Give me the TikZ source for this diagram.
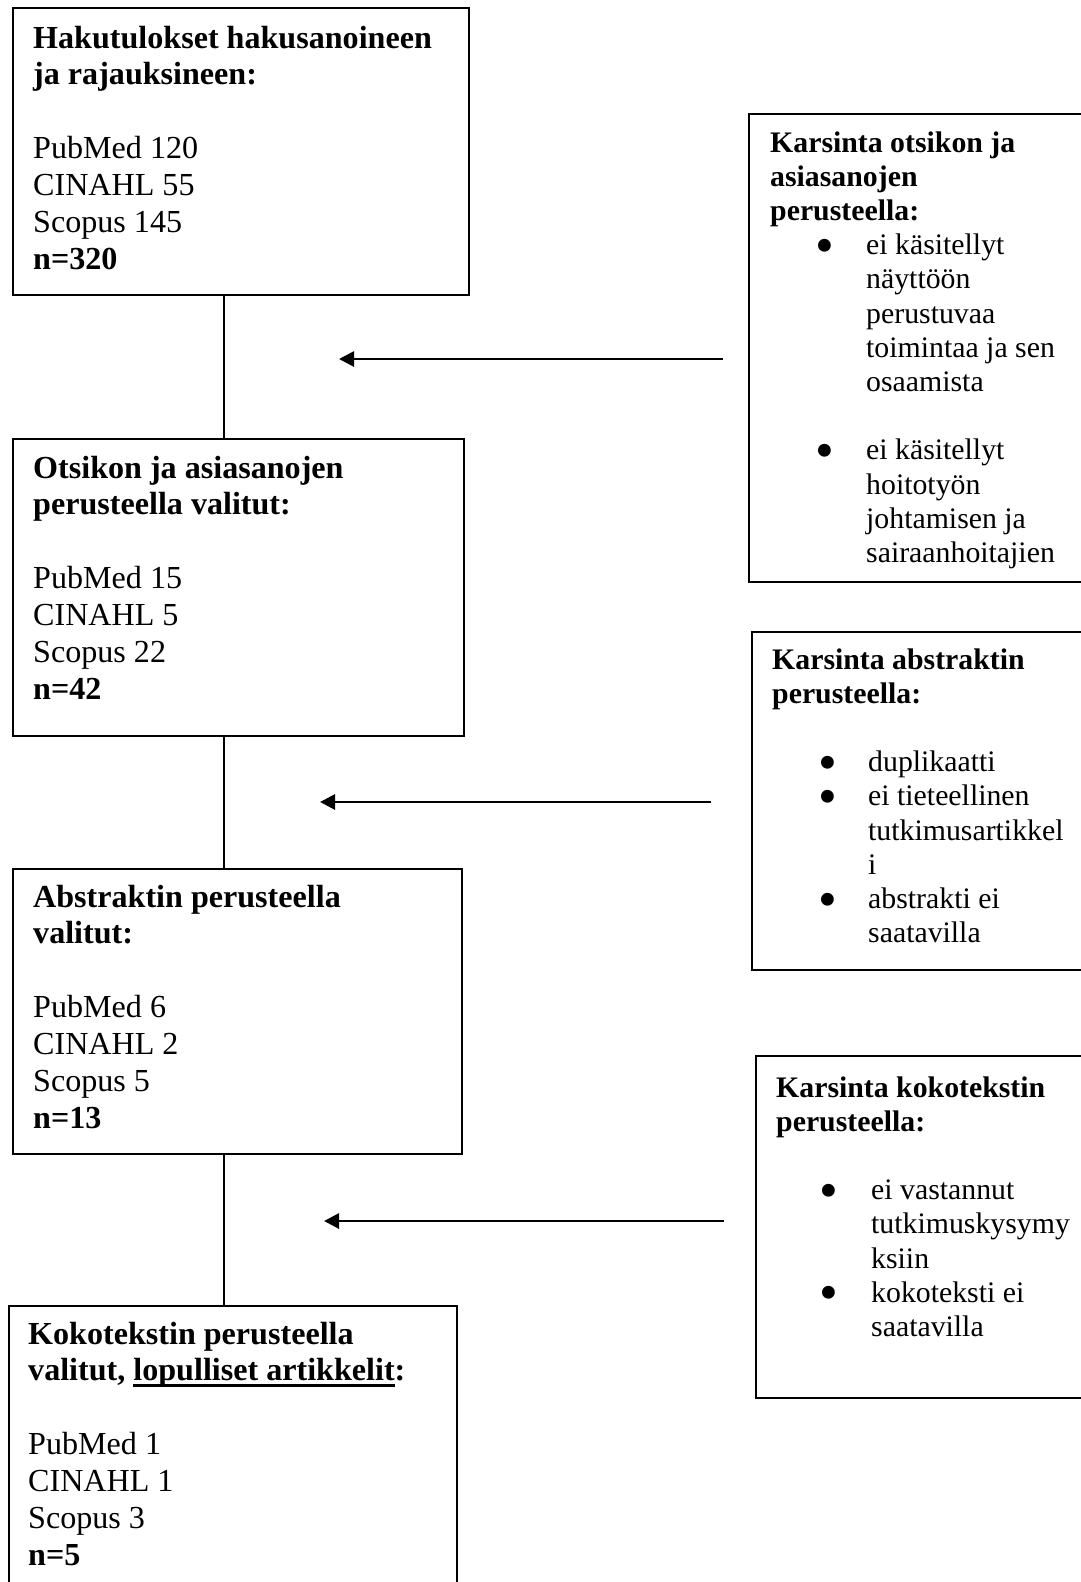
\documentclass[tikz,border=0pt]{standalone}
\usepackage{fontspec}
\setmainfont{Liberation Serif}
\usetikzlibrary{arrows.meta}
\newsavebox\ulbox
\newcommand\ulx[1]{\sbox\ulbox{#1}\rlap{\rule[-6pt]{\wd\ulbox}{3pt}}\usebox\ulbox}
\newcommand\bul[2]{\makebox[#2][l]{\hspace*{#1}\raisebox{-8.7pt}[0pt][0pt]{\scalebox{1.8}{•}}}}
\newcommand\hd[1]{\multicolumn{2}{@{}l@{}}{\textbf{#1}}}
\tikzset{
  boxnode/.style={draw, line width=1.7pt, inner sep=0pt, anchor=north west},
  bigtext/.style={anchor=base west, inner sep=0pt, font=\fontsize{32.1pt}{36.9pt}\selectfont},
  smalltext/.style={anchor=base west, inner sep=0pt, font=\fontsize{29.8pt}{34.2pt}\selectfont},
  conn/.style={line width=1.7pt},
  arr/.style={line width=2.8pt, -{Triangle[length=15pt,width=15pt]}}
}
\begin{document}
\begin{tikzpicture}[x=1pt,y=-1pt]
\fill[white] (0,0) rectangle (1081,1582);
\useasboundingbox (0,0) rectangle (1081,1582);
\clip (0,0) rectangle (1081,1582);

% left boxes
\node[boxnode, minimum width=456pt, minimum height=287pt] (b1) at (12,7) {};
\node[boxnode, minimum width=451pt, minimum height=297pt] (b2) at (12,438) {};
\node[boxnode, minimum width=449pt, minimum height=285pt] (b3) at (12,868) {};
\node[boxnode, minimum width=448pt, minimum height=300pt] (b4) at (8,1305) {};
% right boxes
\node[boxnode, minimum width=360pt, minimum height=468pt] (r1) at (748,113) {};
\node[boxnode, minimum width=360pt, minimum height=338pt] (r2) at (751,631) {};
\node[boxnode, minimum width=360pt, minimum height=342pt] (r3) at (755,1055) {};

% texts of left boxes
\node[bigtext] (t1) at (33,48) {\begin{tabular}[t]{@{}l@{}}
\textbf{Hakutulokset hakusanoineen}\\
\textbf{ja rajauksineen:}\\
\\
PubMed 120\\
CINAHL 55\\
Scopus 145\\
\textbf{n=320}
\end{tabular}};
\node[bigtext] (t2) at (33,478) {\begin{tabular}[t]{@{}l@{}}
\textbf{Otsikon ja asiasanojen}\\
\textbf{perusteella valitut:}\\
\\
PubMed 15\\
CINAHL 5\\
Scopus 22\\
\textbf{n=42}
\end{tabular}};
\node[bigtext] (t3) at (33,907) {\begin{tabular}[t]{@{}l@{}}
\textbf{Abstraktin perusteella}\\
\textbf{valitut:}\\
\\
PubMed 6\\
CINAHL 2\\
Scopus 5\\
\textbf{n=13}
\end{tabular}};
\node[bigtext] (t4) at (28,1344) {\begin{tabular}[t]{@{}l@{}}
\textbf{Kokotekstin perusteella}\\
\textbf{valitut, \ulx{lopulliset artikkelit}:}\\
\\
PubMed 1\\
CINAHL 1\\
Scopus 3\\
\textbf{n=5}
\end{tabular}};

% texts of right boxes
\node[smalltext] (s1) at (770,152) {\begin{tabular}[t]{@{}l@{}l@{}}
\hd{Karsinta otsikon ja}\\
\hd{asiasanojen}\\
\hd{perusteella:}\\
\bul{45.5pt}{96pt} & ei käsitellyt\\
 & näyttöön\\
 & perustuvaa\\
 & toimintaa ja sen\\
 & osaamista\\
 & \\
\bul{45.5pt}{96pt} & ei käsitellyt\\
 & hoitotyön\\
 & johtamisen ja\\
 & sairaanhoitajien
\end{tabular}};
\node[smalltext] (s2) at (772,669) {\begin{tabular}[t]{@{}l@{}l@{}}
\hd{Karsinta abstraktin}\\
\hd{perusteella:}\\
 & \\
\bul{46.6pt}{96pt} & duplikaatti\\
\bul{46.6pt}{96pt} & ei tieteellinen\\
 & tutkimusartikkel\\
 & i\\
\bul{46.6pt}{96pt} & abstrakti ei\\
 & saatavilla
\end{tabular}};
\node[smalltext] (s3) at (776,1097) {\begin{tabular}[t]{@{}l@{}l@{}}
\hd{Karsinta kokotekstin}\\
\hd{perusteella:}\\
 & \\
\bul{43pt}{95pt} & ei vastannut\\
 & tutkimuskysymy\\
 & ksiin\\
\bul{43pt}{95pt} & kokoteksti ei\\
 & saatavilla
\end{tabular}};

% vertical connectors
\coordinate (vx) at (224,0);
\draw[conn] (vx |- b1.south) -- (vx |- b2.north);
\draw[conn] (vx |- b2.south) -- (vx |- b3.north);
\draw[conn] (vx |- b3.south) -- (vx |- b4.north);

% arrows
\coordinate (a1s) at (723,359);
\coordinate (a1e) at (339,359);
\coordinate (a2s) at (711,802);
\coordinate (a2e) at (320,802);
\coordinate (a3s) at (724,1221);
\coordinate (a3e) at (324,1221);
\draw[arr] (a1s) -- (a1e);
\draw[arr] (a2s) -- (a2e);
\draw[arr] (a3s) -- (a3e);
\end{tikzpicture}
\end{document}
